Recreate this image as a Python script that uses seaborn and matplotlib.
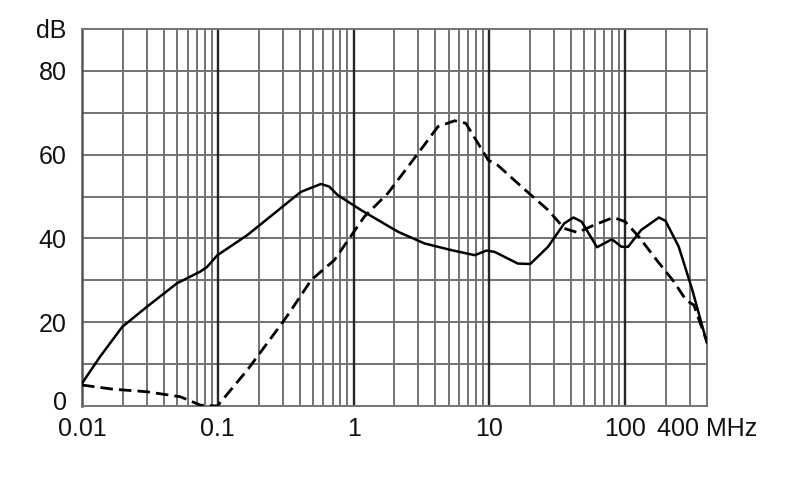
import numpy as np
import pandas as pd
import seaborn as sns
import matplotlib.pyplot as plt
from matplotlib.transforms import ScaledTranslation

# --- Data (frequency in MHz, level in dB) ---
solid_freq = [0.01, 0.0136, 0.0198, 0.0301, 0.0501, 0.0745, 0.0834, 0.0993,
              0.165, 0.29, 0.408, 0.574, 0.66, 0.76, 1.13, 2.12, 3.33, 5.26,
              7.8, 9.5, 10.9, 16.2, 20.0, 27.0, 35.6, 41.6, 47.8, 62.0, 79.8,
              94.0, 105.0, 131.0, 177.0, 198.0, 248.0, 312.0, 400.0]
solid_db = [5.4, 11.8, 18.9, 23.7, 29.3, 32.1, 33.2, 36.0,
            40.8, 47.2, 51.1, 53.0, 52.4, 50.4, 46.8, 41.6, 38.8, 37.2,
            36.0, 37.1, 36.8, 34.0, 33.9, 38.0, 43.6, 45.0, 44.0, 37.9, 39.8,
            38.0, 38.0, 42.0, 45.0, 44.2, 38.0, 27.7, 15.0]

dashed_freq = [0.01, 0.017, 0.03, 0.053, 0.0745, 0.0993, 0.165, 0.29, 0.334,
               0.488, 0.72, 1.2, 1.79, 2.98, 4.18, 5.55, 6.7, 9.8, 11.5, 18.3,
               27.0, 35.6, 44.6, 59.0, 82.0, 100.0, 126.0, 167.0, 228.0, 280.0,
               320.0, 400.0]
dashed_db = [5.0, 4.0, 3.4, 2.2, 0.2, 0.0, 8.6, 19.3, 22.1,
             30.1, 34.8, 45.2, 50.8, 60.3, 66.7, 68.1, 67.5, 58.7, 57.5, 51.6,
             46.8, 42.4, 41.4, 43.2, 45.0, 44.0, 40.4, 35.2, 29.7, 25.3,
             24.1, 15.3]

x_ticks = [0.01, 0.1, 1, 10, 100, 400]
x_labels = ["0.01", "0.1", "1", "10", "100", "400 MHz"]
y_ticks = [0, 20, 40, 60, 80, 90]
y_labels = ["0", "20", "40", "60", "80", "dB"]

solid = pd.DataFrame({"f": solid_freq, "db": solid_db})
dashed = pd.DataFrame({"f": dashed_freq, "db": dashed_db})

sns.set_style("white")
plt.rcParams["font.family"] = ["Liberation Sans", "DejaVu Sans"]

fig = plt.figure(figsize=(7.9, 4.99), dpi=100)
ax = fig.add_axes([0.1038, 0.1864, 0.7911, 0.7555])
ax.set_xscale("log")
ax.set_xlim(0.01, 400)
ax.set_ylim(0, 90)

# grid: every minor frequency, darker at decades; every 10 dB
for dec in [0.01, 0.1, 1, 10, 100]:
    for m in range(2, 10):
        v = dec * m
        if v < 400:
            ax.axvline(v, color="#737373", lw=1.4, zorder=1)
for dec in [0.1, 1, 10, 100]:
    ax.axvline(dec, color="#262626", lw=1.7, zorder=1.5)
for h in range(10, 90, 10):
    ax.axhline(h, color="#737373", lw=1.4, zorder=1)

sns.lineplot(data=solid, x="f", y="db", ax=ax, color="black", lw=1.8,
             estimator=None, sort=False, zorder=3)
sns.lineplot(data=dashed, x="f", y="db", ax=ax, color="black", lw=2.0,
             estimator=None, sort=False, linestyle=(0, (4.5, 2.2)), zorder=3)

for s in ax.spines.values():
    s.set_color("#737373")
    s.set_linewidth(1.4)
ax.spines["left"].set_color("#555555")
ax.spines["left"].set_linewidth(1.8)

ax.set_xticks(x_ticks)
ax.set_xticklabels(x_labels)
ax.xaxis.set_minor_locator(plt.NullLocator())
ax.set_yticks(y_ticks)
ax.set_yticklabels(y_labels)
ax.tick_params(axis="both", length=0, labelsize=18, colors="#111111")
ax.tick_params(axis="y", pad=11)
ax.tick_params(axis="x", pad=8)
ax.set_xlabel("")
ax.set_ylabel("")

# the "0" sits a little above its grid line in the reference
zero = ax.get_yticklabels()[0]
zero.set_transform(zero.get_transform() + ScaledTranslation(0, 4 / 72, fig.dpi_scale_trans))

fig.savefig("out.png", dpi=100)
